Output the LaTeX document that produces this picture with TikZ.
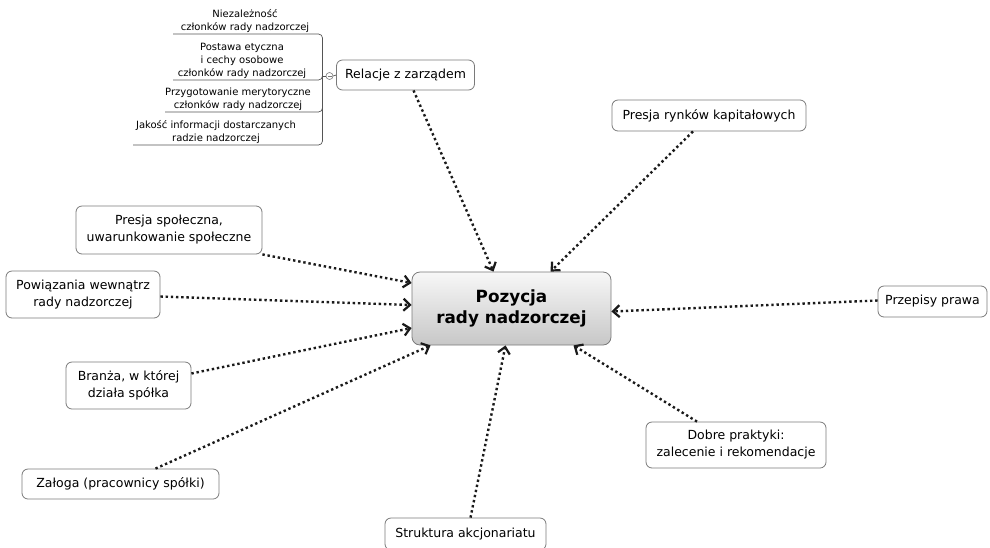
\documentclass[tikz,border=0pt]{standalone}
\usepackage{fontspec}
\setmainfont{DejaVu Sans}
\usetikzlibrary{arrows.meta}
\definecolor{boxborder}{HTML}{7A7A7A}
\definecolor{treeline}{HTML}{555555}
\definecolor{dotcol}{HTML}{1A1A1A}
\tikzset{
  mbox/.style={draw=boxborder, line width=0.8pt, rounded corners=6pt, fill=white, align=center,
    font=\fontsize{12.5}{17}\selectfont, inner sep=0pt},
  centerbox/.style={draw=boxborder, line width=0.8pt, rounded corners=8pt, align=center,
    top color=white!97!black, bottom color=black!22, font=\bfseries\fontsize{16.8}{21}\selectfont,
    minimum width=199pt, minimum height=73pt, inner sep=0pt},
  treetext/.style={align=center, font=\fontsize{10}{13}\selectfont, inner sep=1.5pt, anchor=south},
  treepath/.style={draw=treeline, line width=0.7pt, rounded corners=4pt},
  infl/.style={draw=dotcol, line width=2.4pt, dash pattern=on 2.4pt off 2.8pt,
    -{Straight Barb[length=6.5pt,width=12pt,line width=2.2pt]}}
}
\begin{document}
\begin{tikzpicture}[x=1pt,y=-1pt]
\useasboundingbox (0,0) rectangle (990,547);

% central node
\node[centerbox] (c) at (511.5,308.5) {Pozycja\\rady nadzorczej};

% peripheral nodes
\node[mbox, minimum width=138pt, minimum height=30pt] (rel) at (405.5,75) {Relacje z zarządem};
\node[mbox, minimum width=194pt, minimum height=31pt] (kap) at (709,115.5) {Presja rynków kapitałowych};
\node[mbox, minimum width=186pt, minimum height=48pt] (spol) at (169,230) {Presja społeczna,\\uwarunkowanie społeczne};
\node[mbox, minimum width=154pt, minimum height=47pt] (pow) at (83,294.5) {Powiązania wewnątrz\\rady nadzorczej};
\node[mbox, minimum width=125pt, minimum height=47pt] (bran) at (128.5,385.5) {Branża, w której\\działa spółka};
\node[mbox, minimum width=109pt, minimum height=31pt] (prz) at (932.5,301.5) {Przepisy prawa};
\node[mbox, minimum width=180pt, minimum height=46pt] (dobre) at (736,445) {Dobre praktyki:\\zalecenie i rekomendacje};
\node[mbox, minimum width=197pt, minimum height=30pt] (zal) at (120.5,484) {Załoga (pracownicy spółki)};
\node[mbox, minimum width=161pt, minimum height=32pt] (str) at (465.5,534) {Struktura akcjonariatu};

% collapse button and subtopic tree
\node[circle, draw=boxborder, line width=0.6pt, fill=white, minimum size=7pt, inner sep=0pt] (btn) at (329.5,76) {};
\draw[boxborder, line width=0.6pt] ([xshift=-2pt]btn.center) -- ([xshift=2pt]btn.center);
\draw[treeline, line width=0.7pt] (btn.east) -- (rel.west);
\coordinate (hub) at (322.5,76);
\coordinate (u1) at (173,34);
\coordinate (u2) at (173,80);
\coordinate (u3) at (165,112);
\coordinate (u4) at (133,145);
\draw[treeline, line width=0.7pt] (btn.west) -- (hub);
\draw[treepath] (hub) |- (u1);
\draw[treepath] (hub) |- (u2);
\draw[treepath] (hub) |- (u3);
\draw[treepath] (hub) |- (u4);
\node[treetext] (t1) at (245,34) {Niezależność\\członków rady nadzorczej};
\node[treetext] (t2) at (242,80) {Postawa etyczna\\i cechy osobowe\\członków rady nadzorczej};
\node[treetext] (t3) at (238,112) {Przygotowanie merytoryczne\\członków rady nadzorczej};
\node[treetext] (t4) at (216,145) {Jakość informacji dostarczanych\\radzie nadzorczej};

% influence connectors
\draw[infl] ([xshift=8pt]rel.south) -- ([xshift=-18pt]c.north);
\draw[infl] ([xshift=-16pt]kap.south) -- ([xshift=39pt]c.north);
\draw[infl] (spol.south east) -- ([yshift=25.5pt]c.west);
\draw[infl] ([yshift=-2pt]pow.east) -- ([yshift=3.5pt]c.west);
\draw[infl] ([yshift=12pt]bran.east) -- ([yshift=-19.5pt]c.west);
\draw[infl] ([xshift=35pt]zal.north) -- ([xshift=-81pt]c.south);
\draw[infl] ([xshift=5pt]str.north) -- ([xshift=-6pt]c.south);
\draw[infl] ([xshift=-39pt]dobre.north) -- ([xshift=62pt]c.south);
\draw[infl] ([yshift=1pt]prz.west) -- ([yshift=-3pt]c.east);
\end{tikzpicture}
\end{document}
